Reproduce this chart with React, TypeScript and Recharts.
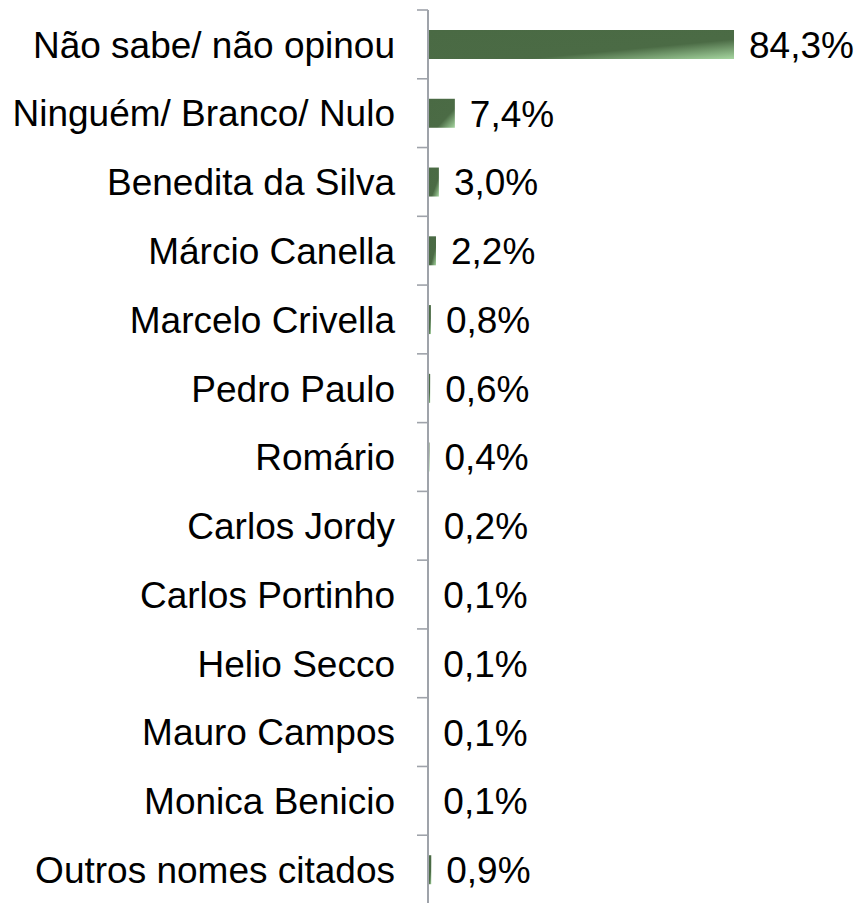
import React from "react";
import { BarChart, Bar, XAxis, YAxis, LabelList } from "recharts";

const categories = [
  "Não sabe/ não opinou",
  "Ninguém/ Branco/ Nulo",
  "Benedita da Silva",
  "Márcio Canella",
  "Marcelo Crivella",
  "Pedro Paulo",
  "Romário",
  "Carlos Jordy",
  "Carlos Portinho",
  "Helio Secco",
  "Mauro Campos",
  "Monica Benicio",
  "Outros nomes citados",
];
const values = [84.3, 7.4, 3.0, 2.2, 0.8, 0.6, 0.4, 0.2, 0.1, 0.1, 0.1, 0.1, 0.9];

const data = categories.map((name, i) => ({ name, value: values[i] }));

const W = 858;
const H = 903;
const FONT = "'Liberation Sans', Arial, sans-serif";
const FS = 37;
const AXIS_COLOR = "#9fa3aa";
const TICK_SIZE = 11;
const TICK_MARGIN = 22;

const fmt = (v: number) => v.toFixed(1).replace(".", ",") + "%";

const CatTick = (props: any) => {
  const { x, y, payload, index } = props;
  const off = payload && payload.offset != null ? payload.offset : 0;
  const lx2 = x + TICK_MARGIN + TICK_SIZE;
  const lx1 = x + TICK_MARGIN;
  return (
    <g>
      <line x1={lx1} x2={lx2} y1={y - off} y2={y - off} stroke={AXIS_COLOR} strokeWidth={1.6} />
      {index === categories.length - 1 && (
        <line x1={lx1} x2={lx2} y1={y + off} y2={y + off} stroke={AXIS_COLOR} strokeWidth={1.6} />
      )}
      <text
        x={x}
        y={y}
        dy="0.36em"
        textAnchor="end"
        fontFamily={FONT}
        fontSize={FS}
        fill="#000"
      >
        {payload.value}
      </text>
    </g>
  );
};

const ValueLabel = (props: any) => {
  const { x, y, width, height, value } = props;
  return (
    <text
      x={x + width + 15}
      y={y + height / 2}
      dy="0.36em"
      textAnchor="start"
      fontFamily={FONT}
      fontSize={FS}
      fill="#000"
    >
      {fmt(value)}
    </text>
  );
};

export default function App() {
  return (
    <div style={{ position: "absolute", left: 0, top: 0, width: W, height: H, background: "#fff" }}>
      <BarChart
        width={W}
        height={H}
        data={data}
        layout="vertical"
        margin={{ top: 10, right: 67, bottom: -1, left: 0 }}
      >
        <defs>
          <linearGradient id="barGrad" x1="0" y1="0" x2="1" y2="1">
            <stop offset="0" stopColor="#4a6a44" />
            <stop offset="0.66" stopColor="#4b6b45" />
            <stop offset="1" stopColor="#a6d6a0" />
          </linearGradient>
        </defs>
        <XAxis type="number" domain={[0, 100]} hide />
        <YAxis
          type="category"
          dataKey="name"
          width={428}
          axisLine={{ stroke: AXIS_COLOR, strokeWidth: 2 }}
          tickLine={false}
          tickSize={TICK_SIZE}
          tickMargin={TICK_MARGIN}
          tick={<CatTick />}
          interval={0}
        />
        <Bar dataKey="value" fill="url(#barGrad)" barSize={29} isAnimationActive={false}>
          <LabelList dataKey="value" content={<ValueLabel />} />
        </Bar>
      </BarChart>
    </div>
  );
}
